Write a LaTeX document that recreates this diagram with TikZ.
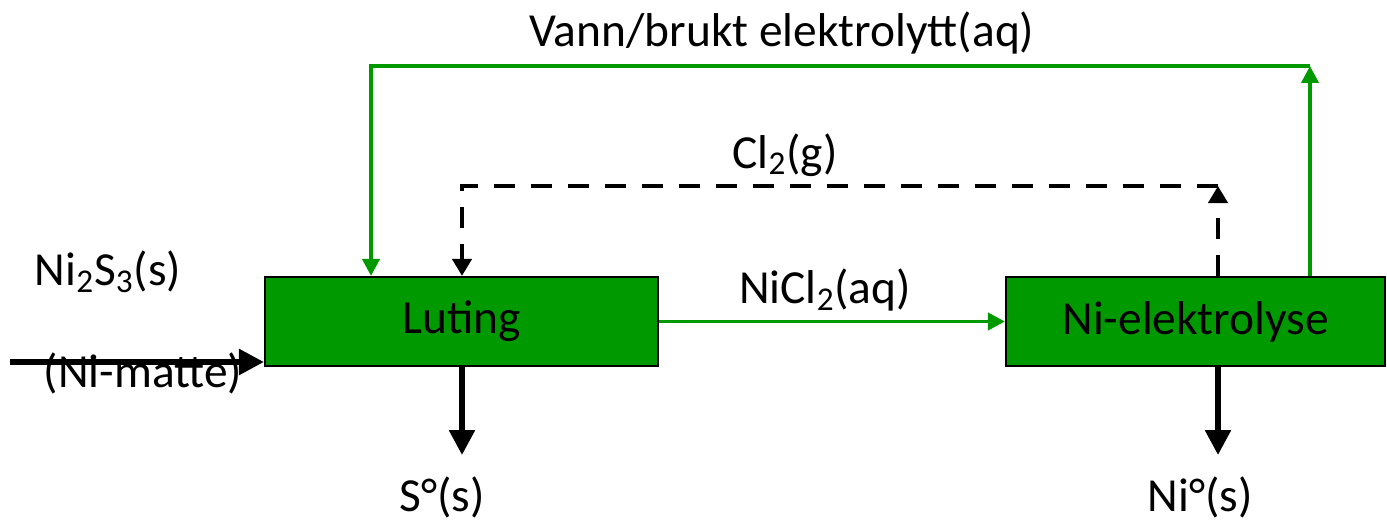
\documentclass[tikz,border=0pt]{standalone}
\usepackage{fontspec}
\setmainfont{Carlito}
\usetikzlibrary{positioning, arrows.meta}
\definecolor{ProcGreen}{HTML}{009900}

\begin{document}
\begin{tikzpicture}[
    procbox/.style={draw=black, line width=1.2pt, fill=ProcGreen, minimum height=1.78cm, font=\fontsize{27}{32}\selectfont},
    greenflow/.style={draw=ProcGreen, line width=2.2pt, -{Triangle[length=0.34cm, width=0.34cm]}},
    gasflow/.style={draw=black, line width=2.3pt, dash pattern=on 0.42cm off 0.32cm, -{Triangle[length=0.34cm, width=0.38cm]}},
    solidflow/.style={draw=black, line width=3.2pt, -{Triangle[length=0.5cm, width=0.5cm]}},
    lbl/.style={font=\fontsize{27}{32}\selectfont}
  ]
      \useasboundingbox (0,0) rectangle (27.74,10.44);

      % --- Process boxes ---
      \node[procbox, minimum width=7.86cm] (luting) at (9.23, 4.01) {Luting};
      \node[procbox, minimum width=7.58cm] (elek)   at (23.91, 4.01) {Ni-elektrolyse};

      % --- Corner points for the recycle loops ---
      \coordinate (vannR) at (26.2, 9.12);
      \coordinate (vannL) at (7.42, 9.12);
      \coordinate (clR)   at (24.36, 6.72);
      \coordinate (clL)   at (9.24, 6.72);
      \coordinate (feed)  at (0.2, 3.2);
      \coordinate (sOut)  at (9.24, 1.34);
      \coordinate (niOut) at (24.36, 1.34);

      % --- Text Labels ---
      \node[lbl] (vann)   at (15.64, 9.78) {Vann/brukt elektrolytt(aq)};
      \node[lbl] (cl)     at (15.7, 7.34)  {Cl\textsubscript{2}(g)};
      \node[lbl] (nicl)   at (16.5, 4.64)  {NiCl\textsubscript{2}(aq)};
      \node[lbl] (nis)    at (2.16, 5.0)   {Ni\textsubscript{2}S\textsubscript{3}(s)};
      \node[lbl] (matte)  at (2.86, 2.98)  {(Ni-matte)};
      \node[lbl] (sprod)  at (8.84, 0.5)   {S°(s)};
      \node[lbl] (niprod) at (24.0, 0.5)   {Ni°(s)};

      % --- Green flows ---
      \draw[greenflow] (luting.east) -- (elek.west);
      \draw[greenflow] (elek.north -| vannR) -- (vannR);
      \draw[greenflow] (vannR) -- (vannL) -- (luting.north -| vannL);

      % --- Chlorine recycle (dashed) ---
      \draw[gasflow] (elek.north -| clR) -- (clR);
      \draw[gasflow] (clR) -- (clL) -- (luting.north -| clL);

      % --- Feed and products ---
      \draw[solidflow] (feed) -- (feed -| luting.west);
      \draw[solidflow] (luting.south -| sOut) -- (sOut);
      \draw[solidflow] (elek.south -| niOut) -- (niOut);
  \end{tikzpicture}
\end{document}
